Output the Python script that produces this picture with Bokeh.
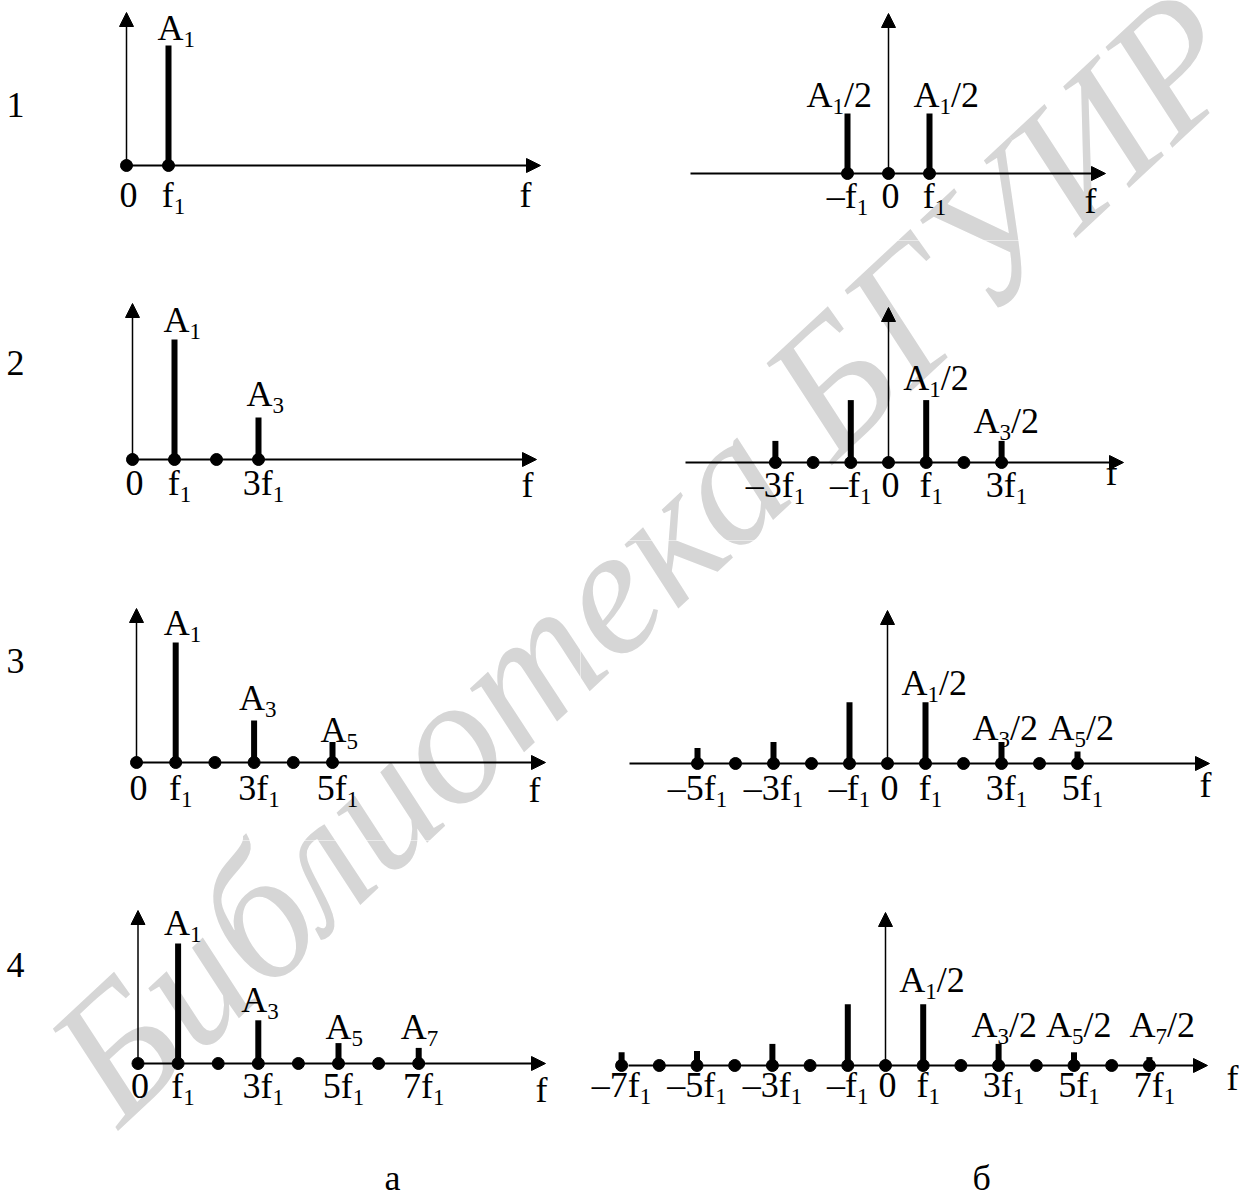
import math

from bokeh.core.properties import value
from bokeh.embed import file_html
from bokeh.layouts import column, row
from bokeh.models import Arrow, ColumnDataSource, NormalHead, Range1d
from bokeh.plotting import figure
from bokeh.resources import INLINE

# ---------------------------------------------------------------------------
# Spectra of a square-wave approximation (harmonics 1, 3, 5, 7).
# Heights are given in units of A1.
# ---------------------------------------------------------------------------

# (а) one-sided amplitude spectra
a_freqs = [[1], [1, 3], [1, 3, 5], [1, 3, 5, 7]]
a_amps = [[1.0], [1.0, 0.35], [1.0, 0.35, 0.17], [1.0, 0.36, 0.17, 0.13]]
a_names = [["A_1"], ["A_1", "A_3"], ["A_1", "A_3", "A_5"], ["A_1", "A_3", "A_5", "A_7"]]
a_grid = [[0, 1], [0, 1, 2, 3], [0, 1, 2, 3, 4, 5], [0, 1, 2, 3, 4, 5, 6, 7]]
a_ticks = [[0, 1], [0, 1, 3], [0, 1, 3, 5], [0, 1, 3, 5, 7]]
a_tick_labels = [
    ["0", "f_1"],
    ["0", "f_1", "3f_1"],
    ["0", "f_1", "3f_1", "5f_1"],
    ["0", "f_1", "3f_1", "5f_1", "7f_1"],
]

# (б) two-sided spectra
b_freqs = [[-1, 1], [-3, -1, 1, 3], [-5, -3, -1, 1, 3, 5], [-7, -5, -3, -1, 1, 3, 5, 7]]
b_amps = [
    [0.5, 0.5],
    [0.18, 0.52, 0.52, 0.18],
    [0.13, 0.18, 0.51, 0.51, 0.18, 0.10],
    [0.11, 0.12, 0.18, 0.51, 0.51, 0.18, 0.11, 0.07],
]
b_named = [[-1, 1], [1, 3], [1, 3, 5], [1, 3, 5, 7]]
b_names = [
    ["A_1/2", "A_1/2"],
    ["A_1/2", "A_3/2"],
    ["A_1/2", "A_3/2", "A_5/2"],
    ["A_1/2", "A_3/2", "A_5/2", "A_7/2"],
]
b_grid = [
    [-1, 0, 1],
    [-3, -2, -1, 0, 1, 2, 3],
    [-5, -4, -3, -2, -1, 0, 1, 2, 3, 4, 5],
    [-7, -6, -5, -4, -3, -2, -1, 0, 1, 2, 3, 4, 5, 6, 7],
]
b_ticks = [[-1, 0, 1], [-3, -1, 0, 1, 3], [-5, -3, -1, 0, 1, 3, 5], [-7, -5, -3, -1, 0, 1, 3, 5, 7]]
b_tick_labels = [
    ["–f_1", "0", "f_1"],
    ["–3f_1", "–f_1", "0", "f_1", "3f_1"],
    ["–5f_1", "–3f_1", "–f_1", "0", "f_1", "3f_1", "5f_1"],
    ["–7f_1", "–5f_1", "–3f_1", "–f_1", "0", "f_1", "3f_1", "5f_1", "7f_1"],
]

row_names = ["1", "2", "3", "4"]
col_names = ["а", "б"]
axis_name = "f"
watermark = "Библиотека БГУИР"

# ---------------------------------------------------------------------------
# Page geometry (pixels)
# ---------------------------------------------------------------------------
AMP_PX = 120          # pixels per unit of A1
MAIN = 36             # main text size
SUB = 23              # subscript size
SUB_DROP = 7          # subscript baseline drop
BASE_K = 0.34         # baseline correction, fraction of the font size
FONT = "Liberation Serif"

row_boxes = [(0, 240), (240, 300), (540, 300), (840, 353)]
LEFT_W, RIGHT_W = 580, 659

# origin x, px per f1, axis y, x-axis start, x-axis tip, y-axis tip
left_geo = [
    dict(ox=126, step=42.0, ay=165, xs=126, xt=540, yt=12),
    dict(ox=132, step=42.0, ay=459, xs=132, xt=536, yt=303),
    dict(ox=136, step=39.2, ay=762, xs=136, xt=545, yt=608),
    dict(ox=137.5, step=40.1, ay=1063, xs=137.5, xt=545, yt=910),
]
right_geo = [
    dict(ox=888, step=41.0, ay=173, xs=690, xt=1105, yt=13),
    dict(ox=888, step=37.7, ay=462, xs=685, xt=1123, yt=307),
    dict(ox=887, step=38.0, ay=763, xs=629, xt=1209, yt=610),
    dict(ox=885, step=37.7, ay=1065, xs=628, xt=1207, yt=912),
]

# label placement: (dx from bar to label's left edge, baseline shift from bar top)
left_name_off = [
    [(-11, -5)],
    [(-11, -7), (-12, -11)],
    [(-12, -7), (-15, -10), (-12, 0)],
    [(-14, -8), (-17, -8), (-13, -4), (-18, -9)],
]
right_name_off = [
    [(-41, -6), (-16, -6)],
    [(-23, -10), (-28, -8)],
    [(-24, -7), (-29, -2), (-29, -11)],
    [(-24, -12), (-27, -7), (-28, -15), (-20, -20)],
]
left_tick_drop = [42, 36, 38, 35]
right_tick_drop = [35, 35, 37, 32]
# axis name: (dx from arrow tip to glyph centre, baseline below axis)
left_fname = [(-15, 42), (-9, 38), (-11, 40), (-4, 39)]
right_fname = [(-15, 40), (-12, 23), (-4, 34), (25, 25)]
row_name_pos = [(15, 117), (15, 375), (15, 673), (15, 977)]
col_name_pos = [(392, 1190), (981, 1190)]

WM_ANCHOR = (77, 1084)
WM_ANGLE = math.radians(43)
WM_SIZE = "182px"
WM_COLOR = "#d6d6d6"

# Times-compatible advance widths (em)
ADV = {"A": 0.722, "f": 0.333, "/": 0.278, "–": 0.5, "а": 0.444, "б": 0.5}


def width_of(s, size):
    return sum(ADV.get(c, 0.5) for c in s) * size


def split_label(lbl):
    if "_" in lbl:
        pre, rest = lbl.split("_", 1)
        return pre, rest[0], rest[1:]
    return lbl, "", ""


def tick_dx(lbl):
    if lbl.startswith("–"):
        return 0
    if lbl == "0":
        return 2
    return 5


class TextStore:
    def __init__(self):
        self.main = dict(x=[], y=[], xo=[], yo=[], text=[])
        self.sub = dict(x=[], y=[], xo=[], yo=[], text=[])

    @staticmethod
    def _put(d, x, y, xo, yo, t):
        d["x"].append(x)
        d["y"].append(y)
        d["xo"].append(xo)
        d["yo"].append(yo)
        d["text"].append(t)

    def add(self, x, y, lbl, dx, dy, align="left"):
        pre, sub, post = split_label(lbl)
        w_pre, w_sub, w_post = width_of(pre, MAIN), width_of(sub, SUB), width_of(post, MAIN)
        start = dx - (w_pre + w_sub + w_post) / 2 if align == "center" else dx
        main_dy = dy - BASE_K * MAIN
        sub_dy = dy + SUB_DROP - BASE_K * SUB
        if pre:
            self._put(self.main, x, y, start, main_dy, pre)
        if sub:
            self._put(self.sub, x, y, start + w_pre, sub_dy, sub)
        if post:
            self._put(self.main, x, y, start + w_pre + w_sub, main_dy, post)


def make_panel(box_left, box_w, box, g, freqs, amps, named, names, name_off,
               grid, ticks, tick_labels, tick_drop, fname, extra):
    top, height = box
    ox, step, ay = g["ox"], g["step"], g["ay"]

    def dx_(px):
        return (px - ox) / step

    def dy_(py):
        return (ay - py) / AMP_PX

    p = figure(
        width=box_w, height=height, title=None,
        x_range=Range1d(dx_(box_left), dx_(box_left + box_w)),
        y_range=Range1d(dy_(top + height), dy_(top)),
        x_axis_type=None, y_axis_type=None,
        output_backend="svg", toolbar_location=None,
        min_border=0, outline_line_color=None,
        background_fill_color="white", border_fill_color="white",
    )
    p.xgrid.visible = False
    p.ygrid.visible = False

    # library watermark running across the page
    p.text(x=[dx_(WM_ANCHOR[0])], y=[dy_(WM_ANCHOR[1])], text=[watermark],
           angle=WM_ANGLE, text_font=value(FONT), text_font_style="italic",
           text_font_size=WM_SIZE, text_color=WM_COLOR,
           text_align="left", text_baseline="alphabetic")

    # frequency axis and amplitude axis
    p.add_layout(Arrow(end=NormalHead(size=14, fill_color="black", line_color="black", line_width=1),
                       x_start=dx_(g["xs"]), y_start=0, x_end=dx_(g["xt"]), y_end=0,
                       line_width=2, line_color="black"))
    p.add_layout(Arrow(end=NormalHead(size=14, fill_color="black", line_color="black", line_width=1),
                       x_start=0, y_start=0, x_end=0, y_end=dy_(g["yt"]),
                       line_width=1.5, line_color="black"))

    # spectral lines
    p.segment(x0=freqs, y0=[0] * len(freqs), x1=freqs, y1=amps,
              line_width=6, line_color="black", line_cap="butt")
    p.scatter(x=grid, y=[0] * len(grid), size=12, color="black")

    ts = TextStore()
    amp_of = dict(zip(freqs, amps))
    for f, lbl, (ndx, ndy) in zip(named, names, name_off):
        ts.add(f, amp_of[f], lbl, ndx, ndy)
    for t, lbl in zip(ticks, tick_labels):
        ts.add(t, 0, lbl, tick_dx(lbl), tick_drop, align="center")
    ts.add(dx_(g["xt"]), 0, axis_name, fname[0], fname[1], align="center")
    for lbl, (px, py) in extra:
        ts.add(0, 0, lbl, px - ox, py - ay, align="center")

    p.text(x="x", y="y", text="text", x_offset="xo", y_offset="yo",
           source=ColumnDataSource(ts.main), text_font=value(FONT),
           text_font_size=f"{MAIN}px", text_color="black",
           text_align="left", text_baseline="alphabetic")
    p.text(x="x", y="y", text="text", x_offset="xo", y_offset="yo",
           source=ColumnDataSource(ts.sub), text_font=value(FONT),
           text_font_size=f"{SUB}px", text_color="black",
           text_align="left", text_baseline="alphabetic")
    return p


rows = []
for i in range(4):
    left_extra = [(row_names[i], row_name_pos[i])]
    right_extra = []
    if i == 3:
        left_extra.append((col_names[0], col_name_pos[0]))
        right_extra.append((col_names[1], col_name_pos[1]))
    pl = make_panel(0, LEFT_W, row_boxes[i], left_geo[i],
                    a_freqs[i], a_amps[i], a_freqs[i], a_names[i], left_name_off[i],
                    a_grid[i], a_ticks[i], a_tick_labels[i], left_tick_drop[i],
                    left_fname[i], left_extra)
    pr = make_panel(LEFT_W, RIGHT_W, row_boxes[i], right_geo[i],
                    b_freqs[i], b_amps[i], b_named[i], b_names[i], right_name_off[i],
                    b_grid[i], b_ticks[i], b_tick_labels[i], right_tick_drop[i],
                    right_fname[i], right_extra)
    rows.append(row(pl, pr))

page = column(*rows)

with open("out.html", "w") as fh:
    fh.write(file_html(page, INLINE))
